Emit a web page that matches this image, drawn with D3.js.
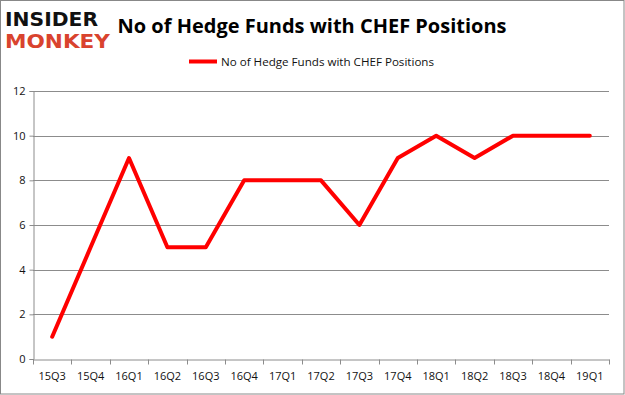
<!DOCTYPE html>
<html>
<head>
<meta charset="utf-8">
<script src="https://cdn.jsdelivr.net/npm/d3@7"></script>
<style>
body{margin:0;background:#fff;}
svg{display:block;font-family:"Open Sans","DejaVu Sans",sans-serif;}
</style>
</head>
<body>
<svg id="chart"></svg>
<script>
var quarters = ["15Q3","15Q4","16Q1","16Q2","16Q3","16Q4","17Q1","17Q2","17Q3","17Q4","18Q1","18Q2","18Q3","18Q4","19Q1"]
var funds = [1,5,9,5,5,8,8,8,6,9,10,9,10,10,10]
var yTicks = [0,2,4,6,8,10,12]
var seriesName = "No of Hedge Funds with CHEF Positions"

var W = 625, H = 395
var m = {t: 91, r: 16, b: 36, l: 33}
var iw = W - m.l - m.r, ih = H - m.t - m.b

var svg = d3.select("#chart").attr("width", W).attr("height", H)

// outer frame
svg.append("rect").attr("x", 0.5).attr("y", 0.5).attr("width", W - 1.5).attr("height", H - 1.5)
    .attr("fill", "#fff").attr("stroke", "#888")

// logo
svg.append("text").attr("x", 5).attr("y", 26).text("INSIDER")
    .style("font-family", "DejaVu Sans").style("font-weight", "bold")
    .style("font-size", "19px").attr("fill", "#111").attr("textLength", 93).attr("lengthAdjust", "spacingAndGlyphs")
svg.append("text").attr("x", 5).attr("y", 48).text("MONKEY")
    .style("font-family", "DejaVu Sans").style("font-weight", "bold")
    .style("font-size", "19px").attr("fill", "#d9432e").attr("textLength", 105).attr("lengthAdjust", "spacingAndGlyphs")

// title
svg.append("text").attr("x", 312).attr("y", 33).attr("text-anchor", "middle")
    .text(seriesName).style("font-weight", "bold").style("font-size", "20px").attr("fill", "#000")
    .attr("textLength", 389).attr("lengthAdjust", "spacingAndGlyphs")

// legend
svg.append("line").attr("x1", 189).attr("x2", 217).attr("y1", 61.5).attr("y2", 61.5)
    .attr("stroke", "#ff0000").attr("stroke-width", 4)
svg.append("text").attr("x", 221).attr("y", 66).text(seriesName)
    .style("font-size", "11px").attr("fill", "#111")
    .attr("textLength", 213).attr("lengthAdjust", "spacingAndGlyphs")

var g = svg.append("g").attr("transform", "translate(" + m.l + "," + m.t + ")")

var x = d3.scaleBand().domain(quarters).range([0, iw])
var y = d3.scaleLinear().domain([0, 12]).range([ih, 0])

// gridlines
g.selectAll(".grid").data(yTicks.filter(function(d){ return d > 0 }))
    .enter().append("line")
    .attr("x1", 0).attr("x2", iw)
    .attr("y1", function(d){ return Math.round(y(d)) + 0.5 })
    .attr("y2", function(d){ return Math.round(y(d)) + 0.5 })
    .attr("stroke", "#8c8c8c")

// y axis
var yAxis = g.append("g").attr("transform", "translate(0.5,0)")
    .call(d3.axisLeft(y).tickValues(yTicks).tickSize(4).tickPadding(4))
yAxis.select(".domain").attr("stroke", "#8c8c8c")
yAxis.selectAll(".tick line").attr("stroke", "#8c8c8c")
yAxis.selectAll("text").style("font-size", "11px").attr("fill", "#111")
    .style("font-family", "Open Sans, DejaVu Sans, sans-serif")

// x axis
var xAxis = g.append("g").attr("transform", "translate(0," + (Math.round(ih) + 0.5) + ")")
    .call(d3.axisBottom(x).tickSize(0).tickPadding(13))
xAxis.select(".domain").attr("stroke", "#8c8c8c")
xAxis.selectAll("text").style("font-size", "11px").attr("fill", "#111")
    .style("font-family", "Open Sans, DejaVu Sans, sans-serif")
// tick marks between categories
xAxis.selectAll(".sep").data(d3.range(quarters.length + 1)).enter().append("line")
    .attr("x1", function(i){ return Math.round(i * x.step()) + 0.5 })
    .attr("x2", function(i){ return Math.round(i * x.step()) + 0.5 })
    .attr("y1", 0).attr("y2", 5).attr("stroke", "#8c8c8c")

// line
var line = d3.line()
    .x(function(d, i){ return x(quarters[i]) + x.bandwidth() / 2 })
    .y(function(d){ return y(d) })

g.append("path").datum(funds)
    .attr("d", line)
    .attr("fill", "none")
    .attr("stroke", "#ff0000")
    .attr("stroke-width", 4)
    .attr("stroke-linejoin", "round")
    .attr("stroke-linecap", "round")
</script>
</body>
</html>
